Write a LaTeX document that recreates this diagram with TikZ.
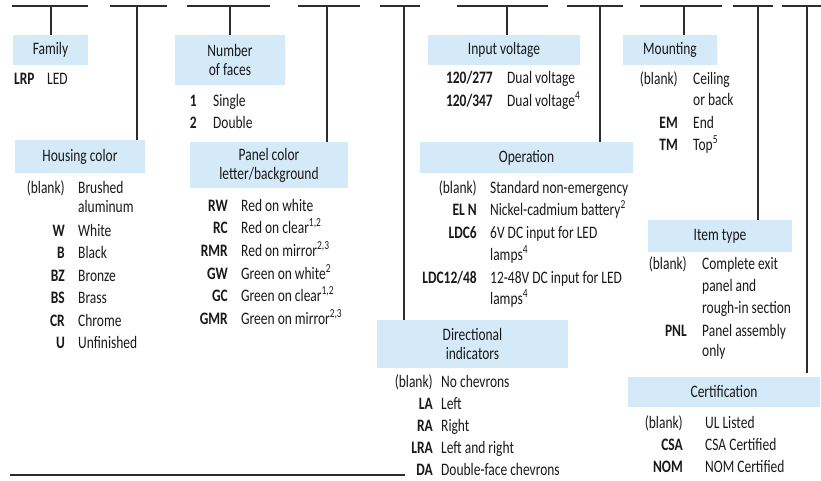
\documentclass[tikz,border=0pt]{standalone}
\usepackage{fontspec}
\setmainfont{Carlito}[FakeStretch=0.77]
\definecolor{hdblue}{RGB}{212,234,249}
\definecolor{rulegray}{RGB}{45,45,45}
\definecolor{inkgray}{RGB}{25,25,25}
\newcommand{\blankcode}{\textmd{(blank)}}

\begin{document}
\begin{tikzpicture}[x=1pt,y=-1pt,
    every node/.style={font=\fontsize{17.5}{19}\selectfont, text=inkgray},
    head/.style={fill=hdblue, inner sep=0pt, align=center},
    code/.style={anchor=base east, inner sep=0pt, font=\fontsize{17.5}{19}\selectfont\bfseries},
    desc/.style={anchor=base west, inner sep=0pt},
    rule/.style={draw=rulegray, line width=1.8pt}]
    \useasboundingbox (0,0) rectangle (821,480);

    % Top dashes
    \foreach \a/\b in {12/88, 110/167, 187/270, 298/360, 380/420,
                       457/548, 567/623, 640/722, 733/773, 782/821}
        \draw[rule] (\a,6) -- (\b,6);
    \coordinate (dFam) at (51,6);
    \coordinate (dHc)  at (137,6);
    \coordinate (dNf)  at (230,6);
    \coordinate (dPc)  at (327,6);
    \coordinate (dDi)  at (404,6);
    \coordinate (dIv)  at (507,6);
    \coordinate (dOp)  at (600,6);
    \coordinate (dMt)  at (684,6);
    \coordinate (dIt)  at (758,6);
    \coordinate (dCe)  at (807,6);

    % Headings
    \node[head, minimum width=75,  minimum height=30] (fam) at (50.5,50)  {Family};
    \node[head, minimum width=110, minimum height=50] (nf)  at (230,60)   {Number\\of faces};
    \node[head, minimum width=152, minimum height=30] (iv)  at (504,50)   {Input voltage};
    \node[head, minimum width=94,  minimum height=30] (mt)  at (670,50)   {Mounting};
    \node[head, minimum width=130, minimum height=33] (hc)  at (80,156.5) {Housing color};
    \node[head, minimum width=158, minimum height=46] (pc)  at (269,165)  {Panel color\\letter/background};
    \node[head, minimum width=213, minimum height=31] (op)  at (526.5,157.5) {Operation};
    \node[head, minimum width=144, minimum height=32] (it)  at (720,236)  {Item type};
    \node[head, minimum width=191, minimum height=48] (di)  at (472.5,344) {Directional\\indicators};
    \node[head, minimum width=192, minimum height=30] (ce)  at (724,392)  {Certification};

    % Drops
    \draw[rule] (dFam) -- (dFam |- fam.north);
    \draw[rule] (dHc)  -- (dHc |- hc.north);
    \draw[rule] (dNf)  -- (dNf |- nf.north);
    \draw[rule] (dPc)  -- (dPc |- pc.north);
    \draw[rule] (dDi)  -- (dDi |- di.north);
    \draw[rule] (dIv)  -- (dIv |- iv.north);
    \draw[rule] (dOp)  -- (dOp |- op.north);
    \draw[rule] (dMt)  -- (dMt |- mt.north);
    \draw[rule] (dIt)  -- (dIt |- it.north);
    \draw[rule, shorten >=4pt] (dCe) -- (dCe |- ce.north);

    % Options
    \node[code, anchor=base west] (famC1) at (14,84) {LRP};
    \node[desc] (famD1) at (47,84) {LED};

    \foreach \y/\c/\d [count=\i] in {106/1/Single, 128/2/Double} {
        \node[code] (nfC\i) at (197,\y) {\c};
        \node[desc] (nfD\i) at (213,\y) {\d};
    }
    \foreach \y/\c/\d [count=\i] in {83/120\slash 277/Dual voltage,
                                     106/120\slash 347/Dual voltage\textsuperscript{4}} {
        \node[code] (ivC\i) at (493,\y) {\c};
        \node[desc] (ivD\i) at (507,\y) {\d};
    }
    \foreach \y/\c/\d [count=\i] in {84/\blankcode/Ceiling, 105//or back,
                                     128/EM/End, 150/TM/Top\textsuperscript{5}} {
        \node[code] (mtC\i) at (678,\y) {\c};
        \node[desc] (mtD\i) at (693,\y) {\d};
    }
    \foreach \y/\c/\d [count=\i] in {193/\blankcode/Brushed, 212//aluminum,
                                     236/W/White, 258/B/Black, 281/BZ/Bronze,
                                     303/BS/Brass, 326/CR/Chrome, 348/U/Unfinished} {
        \node[code] (hcC\i) at (65,\y) {\c};
        \node[desc] (hcD\i) at (78,\y) {\d};
    }
    \foreach \y/\c/\d [count=\i] in {211/RW/Red on white,
                                     233/RC/{Red on clear\textsuperscript{1,2}},
                                     256/RMR/{Red on mirror\textsuperscript{2,3}},
                                     279/GW/Green on white\textsuperscript{2},
                                     301/GC/{Green on clear\textsuperscript{1,2}},
                                     324/GMR/{Green on mirror\textsuperscript{2,3}}} {
        \node[code] (pcC\i) at (228,\y) {\c};
        \node[desc] (pcD\i) at (241,\y) {\d};
    }
    \foreach \y/\c/\d [count=\i] in {193/\blankcode/Standard non-emergency,
                                     215/EL N/Nickel-cadmium battery\textsuperscript{2},
                                     238/LDC6/6V DC input for LED,
                                     260//lamps\textsuperscript{4},
                                     283/LDC12\slash 48/12-48V DC input for LED,
                                     304//lamps\textsuperscript{4}} {
        \node[code] (opC\i) at (477,\y) {\c};
        \node[desc] (opD\i) at (490,\y) {\d};
    }
    \foreach \y/\c/\d [count=\i] in {269/\blankcode/Complete exit, 291//panel and,
                                     313//rough-in section, 336/PNL/Panel assembly,
                                     356//only} {
        \node[code] (itC\i) at (687,\y) {\c};
        \node[desc] (itD\i) at (702,\y) {\d};
    }
    \foreach \y/\c/\d [count=\i] in {387/\blankcode/No chevrons, 409/LA/Left,
                                     431/RA/Right, 453/LRA/Left and right,
                                     475/DA/Double-face chevrons} {
        \node[code] (diC\i) at (433,\y) {\c};
        \node[desc] (diD\i) at (441,\y) {\d};
    }
    \foreach \y/\c/\d [count=\i] in {428/\blankcode/UL Listed, 450/CSA/CSA Certified,
                                     472/NOM/NOM Certified} {
        \node[code] (ceC\i) at (683,\y) {\c};
        \node[desc] (ceD\i) at (705,\y) {\d};
    }

    % Base rule
    \draw[rule] (10,475) -- (405,475);
\end{tikzpicture}
\end{document}
